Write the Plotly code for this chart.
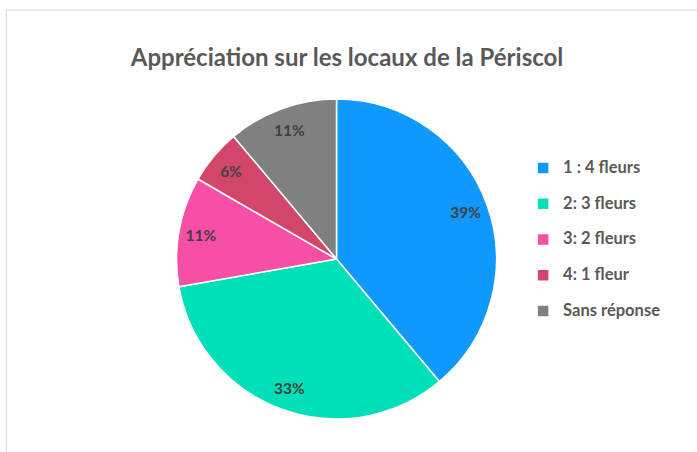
import plotly.graph_objects as go

# ---- data ----
categories = ["1 : 4 fleurs", "2: 3 fleurs", "3: 2 fleurs", "4: 1 fleur", "Sans réponse"]
counts = [7, 6, 2, 1, 2]
colors = ["#0F99FE", "#00E0B8", "#F84FA6", "#D2466A", "#808080"]
title_text = "Appréciation sur les locaux de la Périscol"

FONT = "Lato"
pie_domain = dict(x=[0.2457, 0.7094], y=[0.0747, 0.7986])

# legend labels: extra blank line gives Excel-like spacing between entries
legend_labels = ['<span style="font-size:16.5px">%s</span><br> ' % c for c in categories]

fig = go.Figure()

# main pie (also provides legend)
fig.add_trace(go.Pie(
    labels=legend_labels,
    values=counts,
    sort=False,
    direction="clockwise",
    rotation=0,
    domain=pie_domain,
    marker=dict(colors=colors, line=dict(color="white", width=1.5)),
    textinfo="none",
    hoverinfo="label+percent",
    showlegend=True,
))

# transparent ring used only to place the percentage labels near the rim
fig.add_trace(go.Pie(
    labels=legend_labels,
    values=counts,
    sort=False,
    direction="clockwise",
    rotation=0,
    hole=0.72,
    domain=pie_domain,
    marker=dict(colors=["rgba(0,0,0,0)"] * len(counts), line=dict(width=0)),
    texttemplate="%{percent:.0%}",
    textposition="inside",
    insidetextorientation="horizontal",
    textfont=dict(family=FONT, size=15.5, color="#404040", weight="bold"),
    hoverinfo="skip",
    showlegend=False,
))

fig.update_layout(
    width=697, height=452,
    margin=dict(l=7, r=0, t=10, b=0),
    paper_bgcolor="white",
    plot_bgcolor="white",
    font=dict(family=FONT, color="#595959"),
    title=dict(
        text="<b>%s</b>" % title_text,
        x=0.4928, xref="paper", xanchor="center",
        y=0.872, yref="container", yanchor="middle",
        font=dict(family=FONT, size=24, color="#595959"),
    ),
    legend=dict(
        x=0.748, xanchor="left",
        y=0.676, yanchor="top",
        valign="top",
        font=dict(family=FONT, size=12.6, color="#595959", weight="bold"),
        bgcolor="rgba(0,0,0,0)",
    ),
    shapes=[dict(
        type="rect", xref="paper", yref="paper",
        x0=-0.001, x1=1.02, y0=-0.02, y1=1.0,
        line=dict(color="#D9D9D9", width=1),
        fillcolor="rgba(0,0,0,0)", layer="below",
    )],
)

fig.write_html(
    "out.html",
    config={"displayModeBar": False},
    post_script="document.body.style.margin='0';",
)
